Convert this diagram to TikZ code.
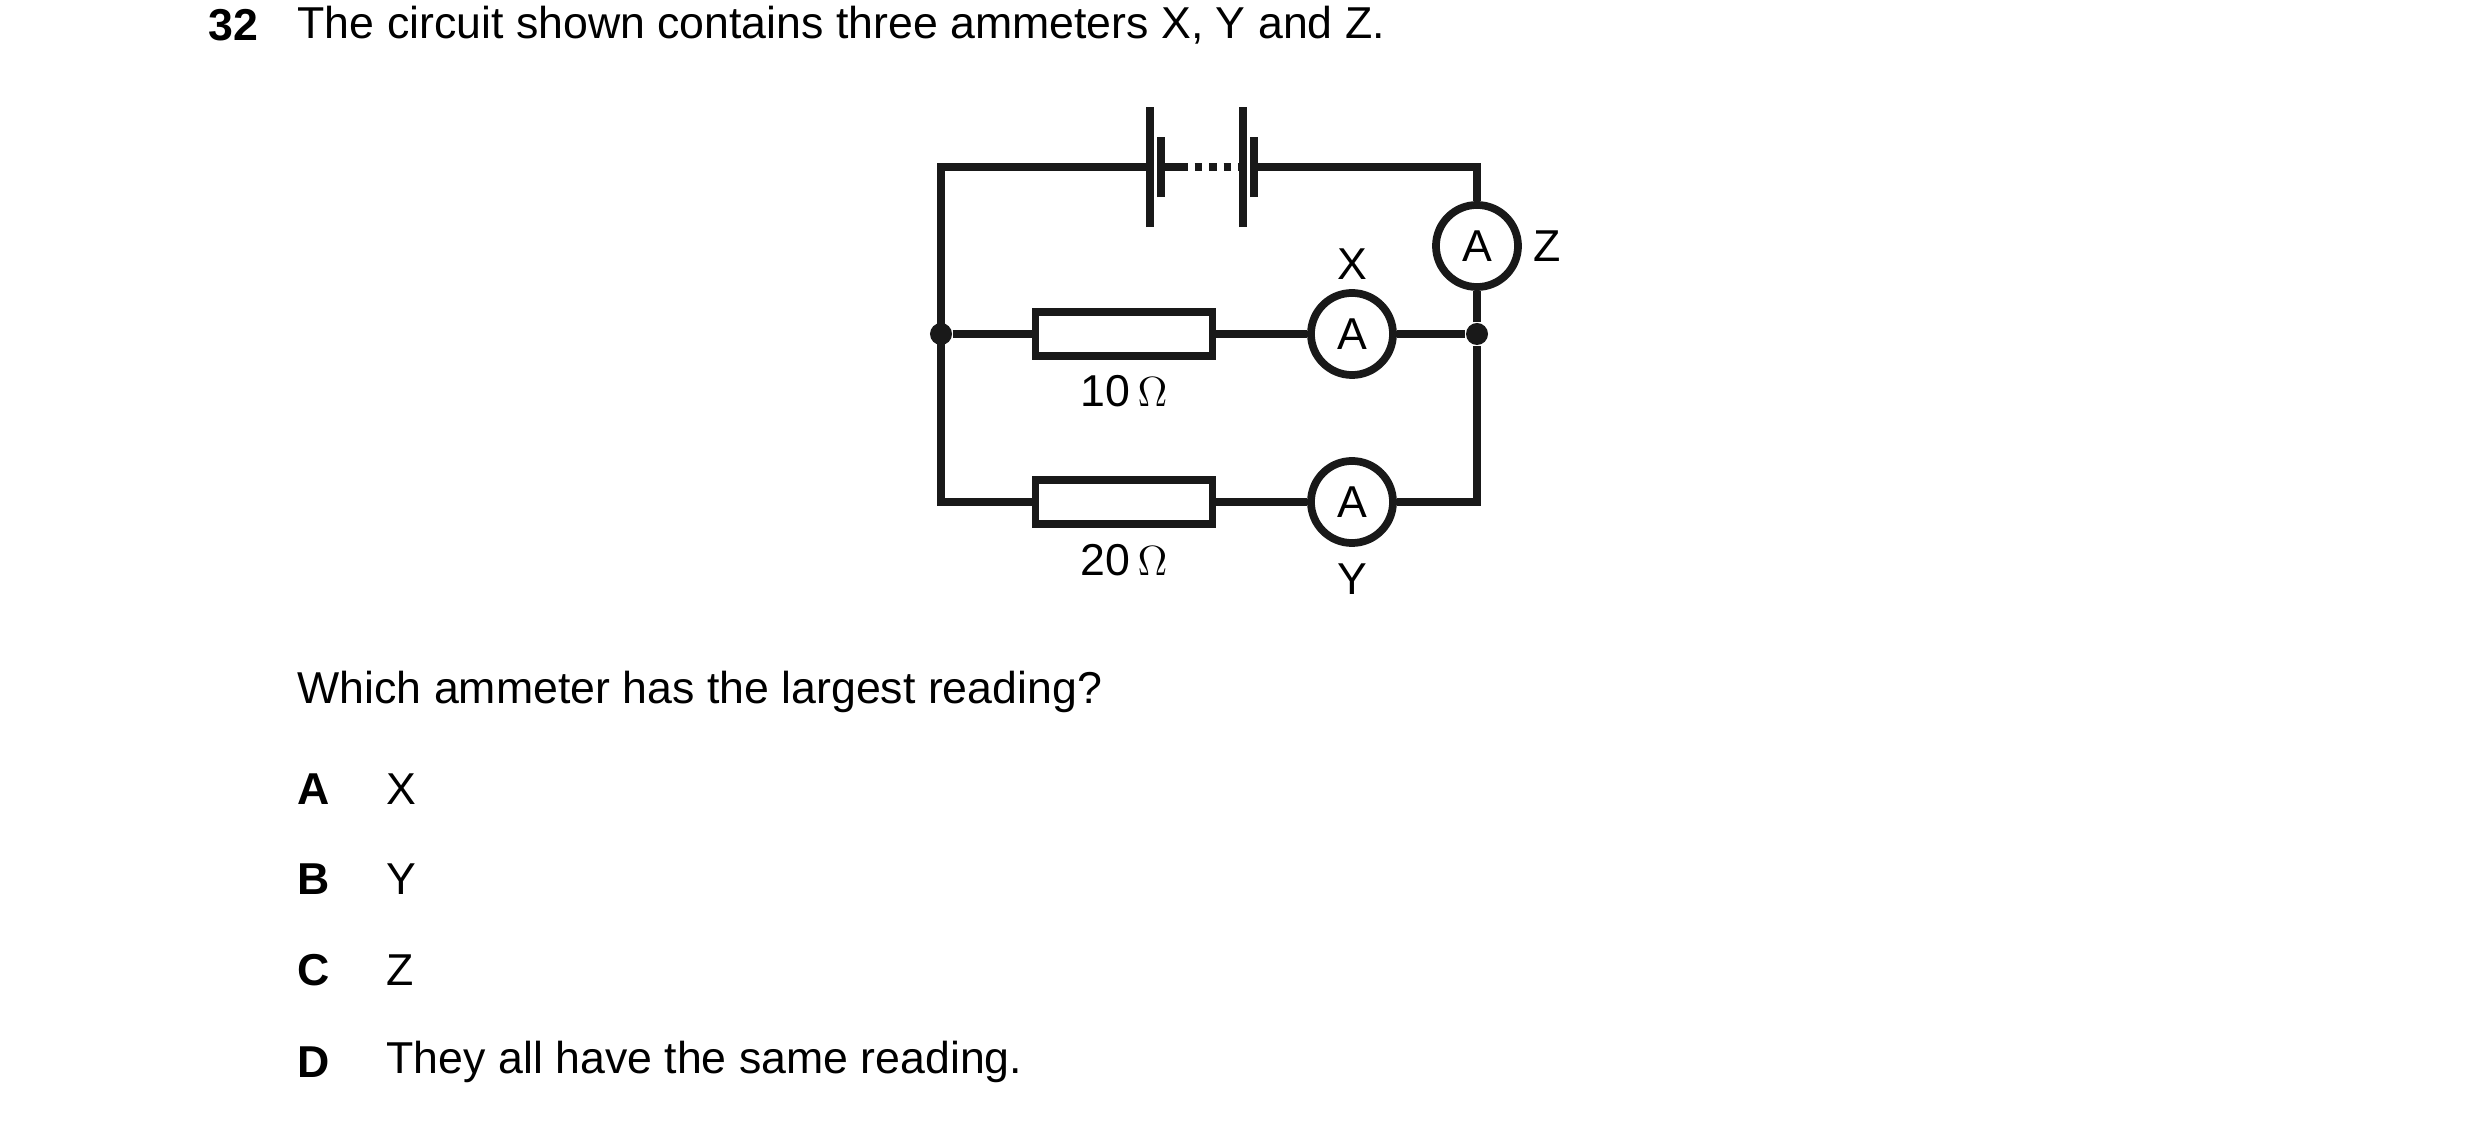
\documentclass[tikz,border=0pt]{standalone}
\usepackage{fontspec}
\setmainfont{Liberation Sans}
\begin{document}
\begin{tikzpicture}[x=0.01cm,y=-0.01cm,
  txt/.style={anchor=west,inner sep=0,font=\fontsize{12.7}{15}\selectfont},
  lbl/.style={inner sep=0,font=\fontsize{12.7}{15}\selectfont},
  wire/.style={line width=2.2pt,draw=black!90},
  res/.style={draw=black!90,line width=2.2pt,minimum width=177\pgflinewidth,inner sep=0,minimum width=1.77cm,minimum height=0.44cm,fill=white},
  amm/.style={circle,draw=black!90,line width=2.2pt,minimum size=0.82cm,inner sep=0,fill=white,font=\fontsize{12.7}{15}\selectfont},
  dot/.style={circle,fill=black!90,minimum size=0.22cm,inner sep=0}]
\useasboundingbox (0,0) rectangle (2480,1122);
\node[txt,font=\fontsize{12.7}{15}\selectfont\bfseries] (q) at (208,25) {32};
\node[txt] (t) at (297,25) {The circuit shown contains three ammeters X, Y and Z.};
% corners
\coordinate (tl) at (941,167); \coordinate (tr) at (1477,167);
\coordinate (bl) at (941,502); \coordinate (br) at (1477,502);
\coordinate (b1) at (1150,167); \coordinate (b1s) at (1161,167);
\coordinate (b2) at (1243,167); \coordinate (b2s) at (1254,167);
\node[dot] (ml) at (941,334) {};
\node[dot] (mr) at (1477,334) {};
\node[res] (r1) at (1124,334) {};
\node[res] (r2) at (1124,502) {};
\node[amm] (ax) at (1352,334) {A};
\node[amm] (ay) at (1352,502) {A};
\node[amm] (az) at (1477,246) {A};
\draw[wire] (b1) -- (tl) -- (bl) -- (r2) -- (ay) -- (br) -- (mr) -- (az) -- (tr) -- (b2s);
\draw[wire] (ml) -- (r1) -- (ax) -- (mr);
\draw[wire] (b1s) -- (1180,167);
\draw[wire,dash pattern=on 0.075cm off 0.07cm] (1180,167) -- (1243,167);
\draw[wire] ([yshift=-0.6cm]b1) -- ([yshift=0.6cm]b1);
\draw[wire] ([yshift=-0.3cm]b1s) -- ([yshift=0.3cm]b1s);
\draw[wire] ([yshift=-0.6cm]b2) -- ([yshift=0.6cm]b2);
\draw[wire] ([yshift=-0.3cm]b2s) -- ([yshift=0.3cm]b2s);
\node[lbl] (lx) at (1352,264) {X};
\node[lbl] (lz) at (1547,246) {Z};
\node[lbl] (ly) at (1352,579) {Y};
\node[lbl] (l1) at (1124,391) {10\,$\Omega$};
\node[lbl] (l2) at (1124,560) {20\,$\Omega$};
\node[txt] (w) at (297,692) {Which ammeter has the largest reading?};
\node[txt,font=\fontsize{12.7}{15}\selectfont\bfseries] (oa) at (297,789) {A};
\node[txt] (ta) at (386,789) {X};
\node[txt,font=\fontsize{12.7}{15}\selectfont\bfseries] (ob) at (297,879) {B};
\node[txt] (tb) at (386,879) {Y};
\node[txt,font=\fontsize{12.7}{15}\selectfont\bfseries] (oc) at (297,970) {C};
\node[txt] (tc) at (386,970) {Z};
\node[txt,font=\fontsize{12.7}{15}\selectfont\bfseries] (od) at (297,1062) {D};
\node[txt] (td) at (386,1062) {They all have the same reading.};
\end{tikzpicture}
\end{document}
